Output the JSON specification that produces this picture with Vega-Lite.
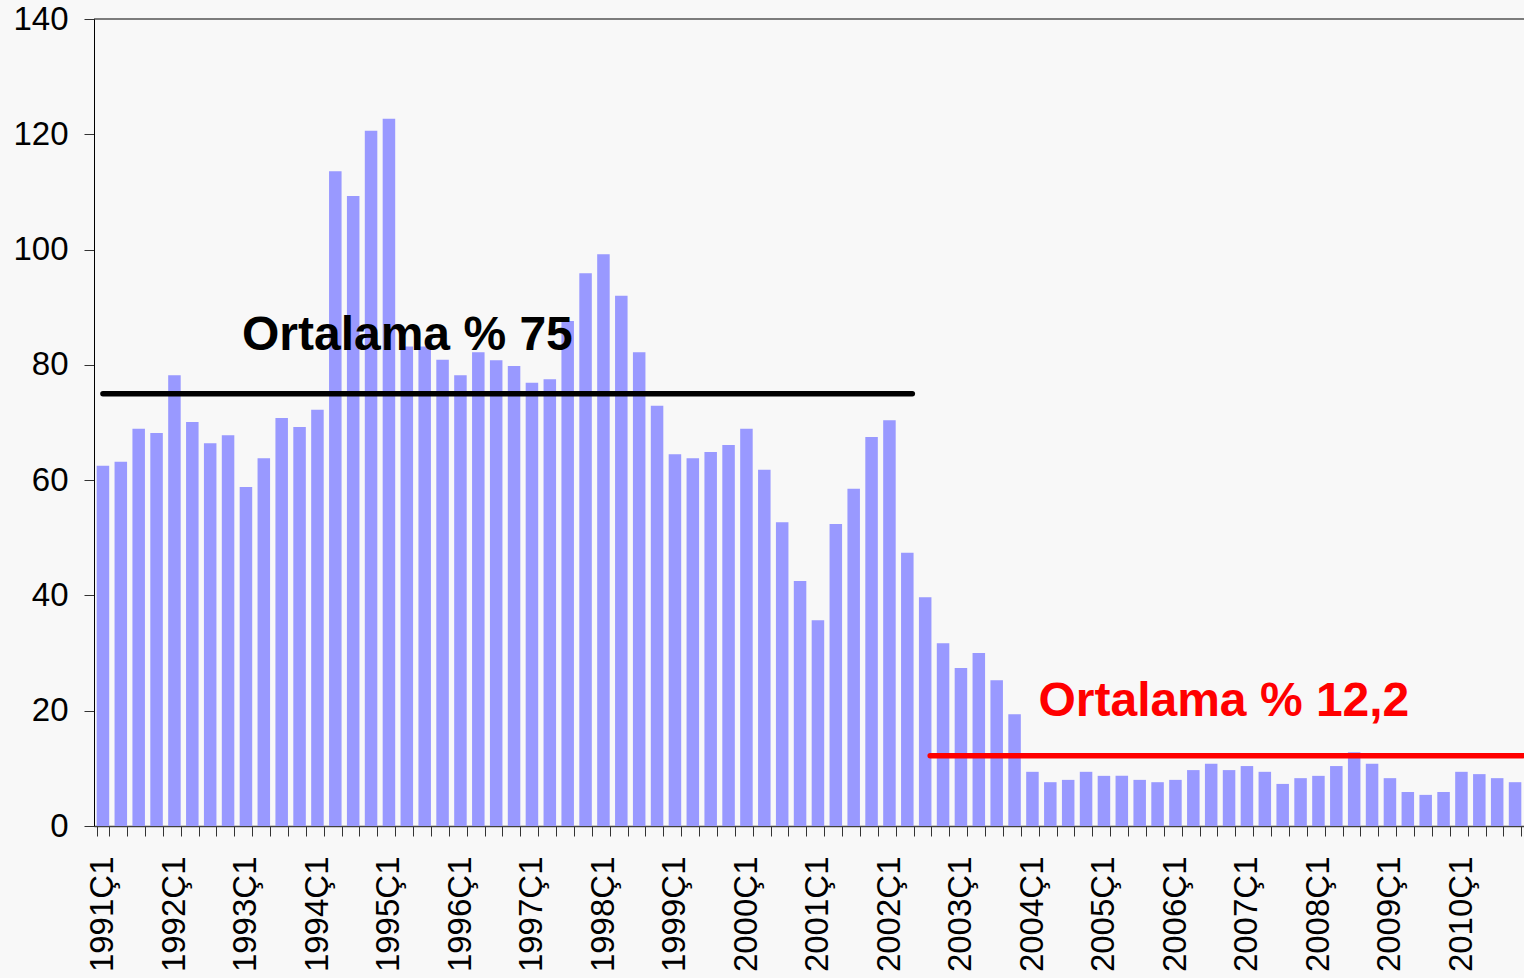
{
  "$schema": "https://vega.github.io/schema/vega-lite/v6.json",
  "width": 1430,
  "height": 807,
  "autosize": {"type": "none"},
  "padding": {"left": 94, "top": 19, "right": 0, "bottom": 152},
  "background": "#f8f8f8",
  "config": {"view": {"stroke": null}, "font": "Liberation Sans"},
  "datasets": {
    "bars": [
      {"q": "1991Ç1", "v": 62.5}, {"q": "1991Ç2", "v": 63.2}, {"q": "1991Ç3", "v": 68.9}, {"q": "1991Ç4", "v": 68.2},
      {"q": "1992Ç1", "v": 78.2}, {"q": "1992Ç2", "v": 70.1}, {"q": "1992Ç3", "v": 66.4}, {"q": "1992Ç4", "v": 67.8},
      {"q": "1993Ç1", "v": 58.8}, {"q": "1993Ç2", "v": 63.8}, {"q": "1993Ç3", "v": 70.8}, {"q": "1993Ç4", "v": 69.2},
      {"q": "1994Ç1", "v": 72.2}, {"q": "1994Ç2", "v": 113.6}, {"q": "1994Ç3", "v": 109.3}, {"q": "1994Ç4", "v": 120.6},
      {"q": "1995Ç1", "v": 122.7}, {"q": "1995Ç2", "v": 83.2}, {"q": "1995Ç3", "v": 83.2}, {"q": "1995Ç4", "v": 80.9},
      {"q": "1996Ç1", "v": 78.2}, {"q": "1996Ç2", "v": 82.2}, {"q": "1996Ç3", "v": 80.8}, {"q": "1996Ç4", "v": 79.8},
      {"q": "1997Ç1", "v": 76.9}, {"q": "1997Ç2", "v": 77.5}, {"q": "1997Ç3", "v": 87.6}, {"q": "1997Ç4", "v": 95.9},
      {"q": "1998Ç1", "v": 99.2}, {"q": "1998Ç2", "v": 92.0}, {"q": "1998Ç3", "v": 82.2}, {"q": "1998Ç4", "v": 72.9},
      {"q": "1999Ç1", "v": 64.5}, {"q": "1999Ç2", "v": 63.8}, {"q": "1999Ç3", "v": 64.9}, {"q": "1999Ç4", "v": 66.1},
      {"q": "2000Ç1", "v": 68.9}, {"q": "2000Ç2", "v": 61.8}, {"q": "2000Ç3", "v": 52.7}, {"q": "2000Ç4", "v": 42.5},
      {"q": "2001Ç1", "v": 35.7}, {"q": "2001Ç2", "v": 52.4}, {"q": "2001Ç3", "v": 58.5}, {"q": "2001Ç4", "v": 67.5},
      {"q": "2002Ç1", "v": 70.4}, {"q": "2002Ç2", "v": 47.4}, {"q": "2002Ç3", "v": 39.7}, {"q": "2002Ç4", "v": 31.7},
      {"q": "2003Ç1", "v": 27.4}, {"q": "2003Ç2", "v": 30.0}, {"q": "2003Ç3", "v": 25.3}, {"q": "2003Ç4", "v": 19.4},
      {"q": "2004Ç1", "v": 9.4}, {"q": "2004Ç2", "v": 7.6}, {"q": "2004Ç3", "v": 8.0}, {"q": "2004Ç4", "v": 9.4},
      {"q": "2005Ç1", "v": 8.7}, {"q": "2005Ç2", "v": 8.7}, {"q": "2005Ç3", "v": 8.0}, {"q": "2005Ç4", "v": 7.6},
      {"q": "2006Ç1", "v": 8.0}, {"q": "2006Ç2", "v": 9.7}, {"q": "2006Ç3", "v": 10.8}, {"q": "2006Ç4", "v": 9.7},
      {"q": "2007Ç1", "v": 10.4}, {"q": "2007Ç2", "v": 9.4}, {"q": "2007Ç3", "v": 7.3}, {"q": "2007Ç4", "v": 8.3},
      {"q": "2008Ç1", "v": 8.7}, {"q": "2008Ç2", "v": 10.4}, {"q": "2008Ç3", "v": 12.8}, {"q": "2008Ç4", "v": 10.8},
      {"q": "2009Ç1", "v": 8.3}, {"q": "2009Ç2", "v": 5.9}, {"q": "2009Ç3", "v": 5.4}, {"q": "2009Ç4", "v": 5.9},
      {"q": "2010Ç1", "v": 9.4}, {"q": "2010Ç2", "v": 9.0}, {"q": "2010Ç3", "v": 8.3}, {"q": "2010Ç4", "v": 7.6}
    ],
    "avgs": [
      {"start": "1991Ç1", "end": "2002Ç2", "avg": 75, "label": "Ortalama % 75", "lx": "1993Ç1", "ly": 82.6, "c": "black"},
      {"start": "2002Ç3", "end": "2010Ç4", "avg": 12.2, "label": "Ortalama % 12,2", "lx": "2004Ç1", "ly": 19.1, "c": "red"}
    ]
  },
  "layer": [
    {
      "data": {"name": "bars"},
      "mark": {"type": "bar", "color": "#9999ff"},
      "encoding": {
        "x": {
          "field": "q", "type": "nominal", "sort": null,
          "scale": {"paddingInner": 0.3, "paddingOuter": 0.15},
          "axis": {
            "title": null, "labelAngle": -90, "labelFontSize": 33, "labelColor": "black",
            "labelFont": "Liberation Sans", "labelPadding": 20, "labelOverlap": false,
            "labelExpr": "indexof(datum.label, 'Ç1') > 0 ? datum.label : ''",
            "tickBand": "extent", "tickSize": 10, "tickColor": "#333333", "domainColor": "#404040",
            "domainWidth": 1.5
          }
        },
        "y": {
          "field": "v", "type": "quantitative",
          "scale": {"domain": [0, 140], "nice": false},
          "axis": {
            "title": null, "values": [0, 20, 40, 60, 80, 100, 120, 140], "grid": false,
            "labelFontSize": 33, "labelColor": "black", "labelFont": "Liberation Sans",
            "labelPadding": 16, "tickSize": 10, "tickColor": "#333333", "domainColor": "black"
          }
        }
      }
    },
    {
      "data": {"values": [{"top": 140}]},
      "mark": {"type": "rule", "color": "black", "strokeWidth": 1},
      "encoding": {"y": {"field": "top", "type": "quantitative"}}
    },
    {
      "data": {"name": "avgs"},
      "transform": [{"filter": "datum.c === 'black'"}],
      "mark": {"type": "rule", "strokeWidth": 5.5, "strokeCap": "round", "x2Offset": 5},
      "encoding": {
        "x": {"field": "start", "type": "nominal", "sort": null},
        "x2": {"field": "end"},
        "y": {"field": "avg", "type": "quantitative"},
        "color": {"field": "c", "type": "nominal", "scale": null}
      }
    },
    {
      "data": {"name": "avgs"},
      "transform": [{"filter": "datum.c === 'red'"}],
      "mark": {"type": "rule", "strokeWidth": 5.5, "strokeCap": "round", "xOffset": 5, "x2Offset": 8},
      "encoding": {
        "x": {"field": "start", "type": "nominal", "sort": null},
        "x2": {"field": "end"},
        "y": {"field": "avg", "type": "quantitative"},
        "color": {"field": "c", "type": "nominal", "scale": null}
      }
    },
    {
      "data": {"name": "avgs"},
      "transform": [{"filter": "datum.c === 'black'"}],
      "mark": {"type": "text", "align": "left", "baseline": "alphabetic", "fontSize": 48, "fontWeight": "bold", "font": "Liberation Sans", "dx": -4},
      "encoding": {
        "x": {"field": "lx", "type": "nominal", "sort": null},
        "y": {"field": "ly", "type": "quantitative"},
        "text": {"field": "label"},
        "color": {"field": "c", "type": "nominal", "scale": null}
      }
    },
    {
      "data": {"name": "avgs"},
      "transform": [{"filter": "datum.c === 'red'"}],
      "mark": {"type": "text", "align": "left", "baseline": "alphabetic", "fontSize": 48, "fontWeight": "bold", "font": "Liberation Sans", "dx": 6},
      "encoding": {
        "x": {"field": "lx", "type": "nominal", "sort": null},
        "y": {"field": "ly", "type": "quantitative"},
        "text": {"field": "label"},
        "color": {"field": "c", "type": "nominal", "scale": null}
      }
    }
  ]
}
